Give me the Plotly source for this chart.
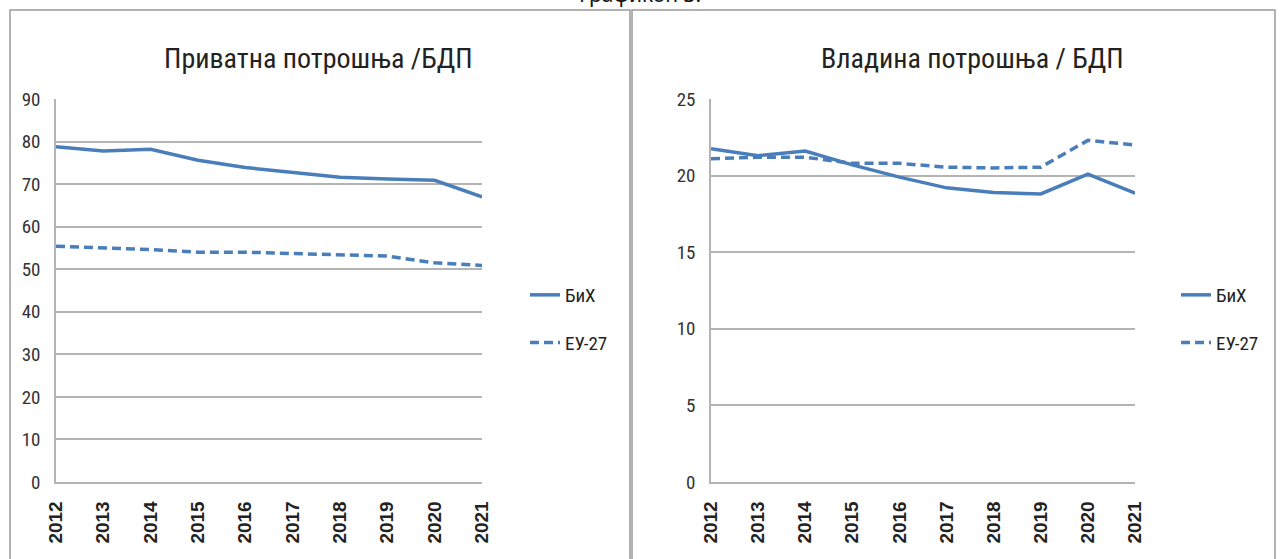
import plotly.graph_objs as go

### Data ###
years        = ['2012', '2013', '2014', '2015', '2016', '2017', '2018', '2019', '2020', '2021']

privBih      = [78.8, 77.8, 78.2, 75.6, 73.9, 72.7, 71.6, 71.2, 70.9, 67.0]
privEu       = [55.4, 55.1, 54.6, 54.0, 54.0, 53.7, 53.4, 53.1, 51.5, 50.9]

govBih       = [21.75, 21.3, 21.6, 20.7, 19.9, 19.2, 18.9, 18.8, 20.1, 18.85]
govEu        = [21.1, 21.2, 21.2, 20.8, 20.8, 20.55, 20.5, 20.55, 22.3, 22.0]

seriesNames  = ['БиХ', 'ЕУ-27']
panelTitles  = ['Приватна потрошња /БДП', 'Владина потрошња / БДП']

### Style ###
lineColor    = '#4A7EBB'
gridColor    = '#B4B4B4'
narrowFont   = 'Liberation Sans Narrow, Arial Narrow, Roboto Condensed, sans-serif'
W, H         = 1280, 559

fig = go.Figure()

for (bih, eu), xa, ya, lg in zip([(privBih, privEu), (govBih, govEu)],
                                 ['x', 'x2'], ['y', 'y2'], ['legend', 'legend2']):
    fig.add_trace(go.Scatter(x=years, y=bih, mode='lines', name=seriesNames[0],
                             line=dict(color=lineColor, width=3.5),
                             xaxis=xa, yaxis=ya, legend=lg, legendgroup=lg + 'a'))
    fig.add_trace(go.Scatter(x=years, y=eu, mode='lines', name=seriesNames[1],
                             line=dict(color=lineColor, width=3.5, dash='9px,5px'),
                             xaxis=xa, yaxis=ya, legend=lg, legendgroup=lg + 'b'))

yTop, yBot = 1 - 99 / H, 1 - 482 / H

axisCommon = dict(showline=True, linecolor=gridColor, linewidth=1.5,
                  ticks='', zeroline=False, automargin=False)
xTickFont  = dict(family='Liberation Sans, Arial', size=19, color='#222', weight='bold')
yTickFont  = dict(family=narrowFont, size=19, color='#333')

fig.update_layout(
    width=W, height=H,
    margin=dict(l=0, r=0, t=0, b=0),
    paper_bgcolor='white', plot_bgcolor='white',
    xaxis =dict(domain=[56 / W, 482 / W], anchor='y', type='category', tickangle=-90,
                showgrid=False, tickfont=xTickFont, ticklabelstandoff=10, **axisCommon),
    yaxis =dict(domain=[yBot, yTop], anchor='x', range=[0, 90], dtick=10,
                showgrid=True, gridcolor=gridColor, gridwidth=1.5,
                tickfont=yTickFont, ticklabelstandoff=10, **axisCommon),
    xaxis2=dict(domain=[711 / W, 1135 / W], anchor='y2', type='category', tickangle=-90,
                showgrid=False, tickfont=xTickFont, ticklabelstandoff=10, **axisCommon),
    yaxis2=dict(domain=[yBot, yTop], anchor='x2', range=[0, 25], dtick=5,
                showgrid=True, gridcolor=gridColor, gridwidth=1.5,
                tickfont=yTickFont, ticklabelstandoff=10, **axisCommon),
    legend =dict(x=525 / W, y=1 - 276 / H, xanchor='left', yanchor='top',
                 font=dict(family=narrowFont, size=19, color='#222'),
                 tracegroupgap=20, bgcolor='rgba(0,0,0,0)'),
    legend2=dict(x=1176 / W, y=1 - 276 / H, xanchor='left', yanchor='top',
                 font=dict(family=narrowFont, size=19, color='#222'),
                 tracegroupgap=20, bgcolor='rgba(0,0,0,0)'),
    showlegend=True,
)

# Panel frames
for x0, x1 in [(10, 630), (632, 1275)]:
    fig.add_shape(type='rect', xref='paper', yref='paper',
                  x0=x0 / W, x1=x1 / W, y0=-0.05, y1=1 - 10 / H,
                  line=dict(color='#999999', width=1.5))

# Panel titles
for t, cx in zip(panelTitles, [318, 972]):
    fig.add_annotation(text=t, xref='paper', yref='paper', x=cx / W, y=1 - 58 / H,
                       xanchor='center', yanchor='middle', showarrow=False,
                       font=dict(family=narrowFont, size=28, color='#222'))

# Caption cut off at the top of the picture
fig.add_annotation(text='Графикон 3.', xref='paper', yref='paper', x=640 / W, y=1 - 10 / H,
                   xanchor='center', yanchor='bottom', showarrow=False,
                   font=dict(family='Noto Sans, Open Sans', size=21, color='#111'))

fig.write_html('out.html', config={'displayModeBar': False},
               post_script="document.body.style.margin = '0';")
